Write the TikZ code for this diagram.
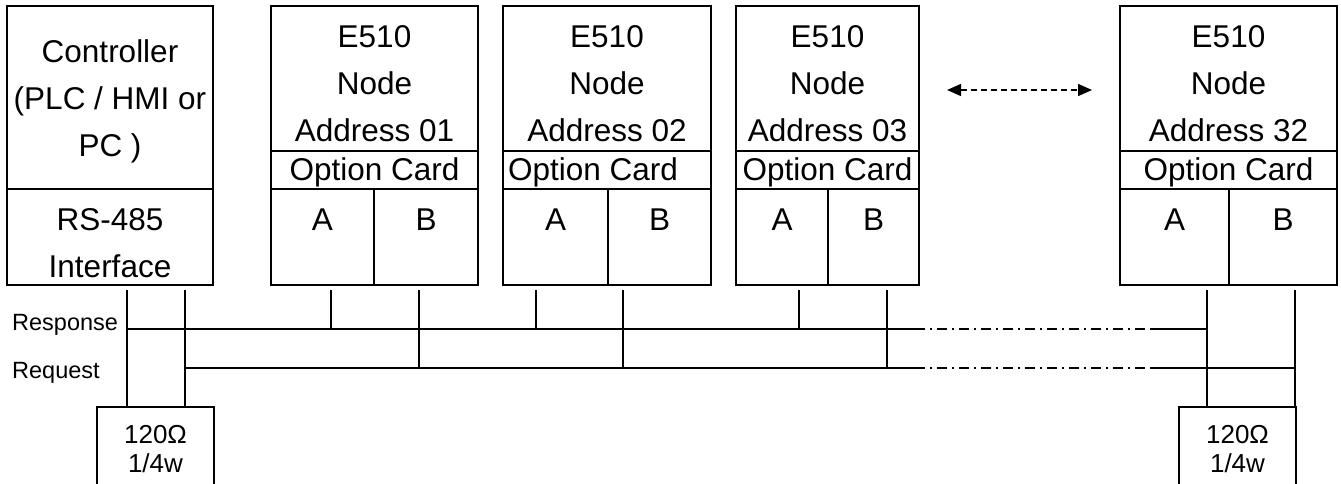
\documentclass[tikz,border=0pt]{standalone}
\usepackage{fontspec}
\setmainfont{Liberation Sans}
\usetikzlibrary{
    arrows.meta,
    positioning
}
\definecolor{ink}{RGB}{0,0,0}
\tikzset{
    box/.style={
        rectangle,
        draw=ink,
        line width=1.8pt,
        inner sep=0pt,
        outer sep=0pt,
        anchor=north west
    },
    unittop/.style={box, minimum height=145pt},
    cardrow/.style={box, minimum height=38pt},
    pinrow/.style={box, minimum height=96pt},
    resistor/.style={box, minimum width=117pt, minimum height=90pt},
    bigtext/.style={
        font=\fontsize{31.5}{47}\selectfont,
        text=ink,
        inner sep=0pt,
        align=center,
        anchor=base
    },
    smalltext/.style={
        font=\fontsize{23.5}{29}\selectfont,
        text=ink,
        inner sep=0pt,
        anchor=base west
    },
    restext/.style={
        font=\fontsize{26}{29}\selectfont,
        text=ink,
        inner sep=0pt,
        align=center,
        anchor=base
    },
    wire/.style={
        draw=ink,
        line width=1.6pt
    },
    farbus/.style={
        wire,
        dash pattern=on 10pt off 5pt on 2pt off 5pt
    },
    morenodes/.style={
        {Triangle[length=14pt,width=12pt]}-{Triangle[length=14pt,width=12pt]},
        draw=ink,
        line width=1.4pt,
        dash pattern=on 6pt off 4pt
    }
}

\begin{document}
\begin{tikzpicture}[x=1pt, y=-1pt]
\useasboundingbox (0,0) rectangle (1341,484);
\clip (0,0) rectangle (1341,484);

% Controller
\node[box, minimum width=206pt, minimum height=183pt] (ctrl) at (7,6) {};
\node[box, minimum width=206pt, minimum height=96pt, below right=0pt and 0pt of ctrl.south west] (rs) {};
\node[bigtext] (ctrltxt) at ([yshift=-151pt]ctrl.north) {Controller\\(PLC / HMI or\\PC )};
\node[bigtext] (rstxt) at ([yshift=-88pt]rs.north) {RS-485\\Interface};

% Node 01
\node[unittop, minimum width=207pt] (u1) at (271,6) {};
\node[cardrow, minimum width=207pt, below right=0pt and 0pt of u1.south west] (c1) {};
\node[pinrow, minimum width=103pt, below right=0pt and 0pt of c1.south west] (a1) {};
\node[pinrow, minimum width=104pt, right=0pt of a1] (b1) {};
\node[bigtext] (u1txt) at ([yshift=-136pt]u1.north) {E510\\Node\\Address 01};
\node[bigtext] (c1txt) at ([yshift=-29pt]c1.north) {Option Card};
\node[bigtext] (a1txt) at ([yshift=-41pt]a1.north) {A};
\node[bigtext] (b1txt) at ([yshift=-41pt]b1.north) {B};

% Node 02
\node[unittop, minimum width=208pt] (u2) at (503,6) {};
\node[cardrow, minimum width=208pt, below right=0pt and 0pt of u2.south west] (c2) {};
\node[pinrow, minimum width=105pt, below right=0pt and 0pt of c2.south west] (a2) {};
\node[pinrow, minimum width=103pt, right=0pt of a2] (b2) {};
\node[bigtext] (u2txt) at ([yshift=-136pt]u2.north) {E510\\Node\\Address 02};
\node[bigtext] (c2txt) at ([xshift=-14pt, yshift=-29pt]c2.north) {Option Card};
\node[bigtext] (a2txt) at ([yshift=-41pt]a2.north) {A};
\node[bigtext] (b2txt) at ([yshift=-41pt]b2.north) {B};

% Node 03
\node[unittop, minimum width=183pt] (u3) at (736,6) {};
\node[cardrow, minimum width=183pt, below right=0pt and 0pt of u3.south west] (c3) {};
\node[pinrow, minimum width=92pt, below right=0pt and 0pt of c3.south west] (a3) {};
\node[pinrow, minimum width=91pt, right=0pt of a3] (b3) {};
\node[bigtext] (u3txt) at ([yshift=-136pt]u3.north) {E510\\Node\\Address 03};
\node[bigtext] (c3txt) at ([yshift=-29pt]c3.north) {Option Card};
\node[bigtext] (a3txt) at ([yshift=-41pt]a3.north) {A};
\node[bigtext] (b3txt) at ([yshift=-41pt]b3.north) {B};

% Node 32
\node[unittop, minimum width=217pt] (u32) at (1120,6) {};
\node[cardrow, minimum width=217pt, below right=0pt and 0pt of u32.south west] (c32) {};
\node[pinrow, minimum width=109pt, below right=0pt and 0pt of c32.south west] (a32) {};
\node[pinrow, minimum width=108pt, right=0pt of a32] (b32) {};
\node[bigtext] (u32txt) at ([yshift=-136pt]u32.north) {E510\\Node\\Address 32};
\node[bigtext] (c32txt) at ([yshift=-29pt]c32.north) {Option Card};
\node[bigtext] (a32txt) at ([yshift=-41pt]a32.north) {A};
\node[bigtext] (b32txt) at ([yshift=-41pt]b32.north) {B};

% More nodes in between
\coordinate (moreL) at (947,90);
\coordinate (moreR) at (1092,90);
\draw[morenodes] (moreL) -- (moreR);

% Terminating resistors
\node[resistor] (rleft) at (97,407) {};
\node[resistor] (rright) at (1179,407) {};
\node[restext] (rlefttxt) at ([yshift=-65pt]rleft.north) {120Ω\\1/4w};
\node[restext] (rrighttxt) at ([yshift=-65pt]rright.north) {120Ω\\1/4w};

% Bus lines
\coordinate (resp) at (0,329);
\coordinate (req) at (0,368);
\coordinate (gapL) at (915,0);
\coordinate (gapR) at (1150,0);
\node[smalltext] (resplbl) at (12,330) {Response};
\node[smalltext] (reqlbl) at (12,378) {Request};

% Taps
\coordinate (tca) at (127,290);
\coordinate (tcb) at (185,290);
\coordinate (ta1) at (331,290);
\coordinate (tb1) at (419,290);
\coordinate (ta2) at (536,290);
\coordinate (tb2) at (623,290);
\coordinate (ta3) at (799,290);
\coordinate (tb3) at (887,290);
\coordinate (ta32) at (1207,290);
\coordinate (tb32) at (1295,290);

\draw[wire] (tca) -- (tca |- rleft.north);
\draw[wire] (tcb) -- (tcb |- rleft.north);
\draw[wire] (ta32) -- (ta32 |- rright.north);
\draw[wire] (tb32) -- (tb32 |- rright.north);

\draw[wire] (ta1) -- (ta1 |- resp);
\draw[wire] (tb1) -- (tb1 |- req);
\draw[wire] (ta2) -- (ta2 |- resp);
\draw[wire] (tb2) -- (tb2 |- req);
\draw[wire] (ta3) -- (ta3 |- resp);
\draw[wire] (tb3) -- (tb3 |- req);

\draw[wire] (tca |- resp) -- (gapL |- resp);
\draw[farbus] (gapL |- resp) -- (gapR |- resp);
\draw[wire] (gapR |- resp) -- (ta32 |- resp);

\draw[wire] (tcb |- req) -- (gapL |- req);
\draw[farbus] (gapL |- req) -- (gapR |- req);
\draw[wire] (gapR |- req) -- (tb32 |- req);

\end{tikzpicture}
\end{document}
